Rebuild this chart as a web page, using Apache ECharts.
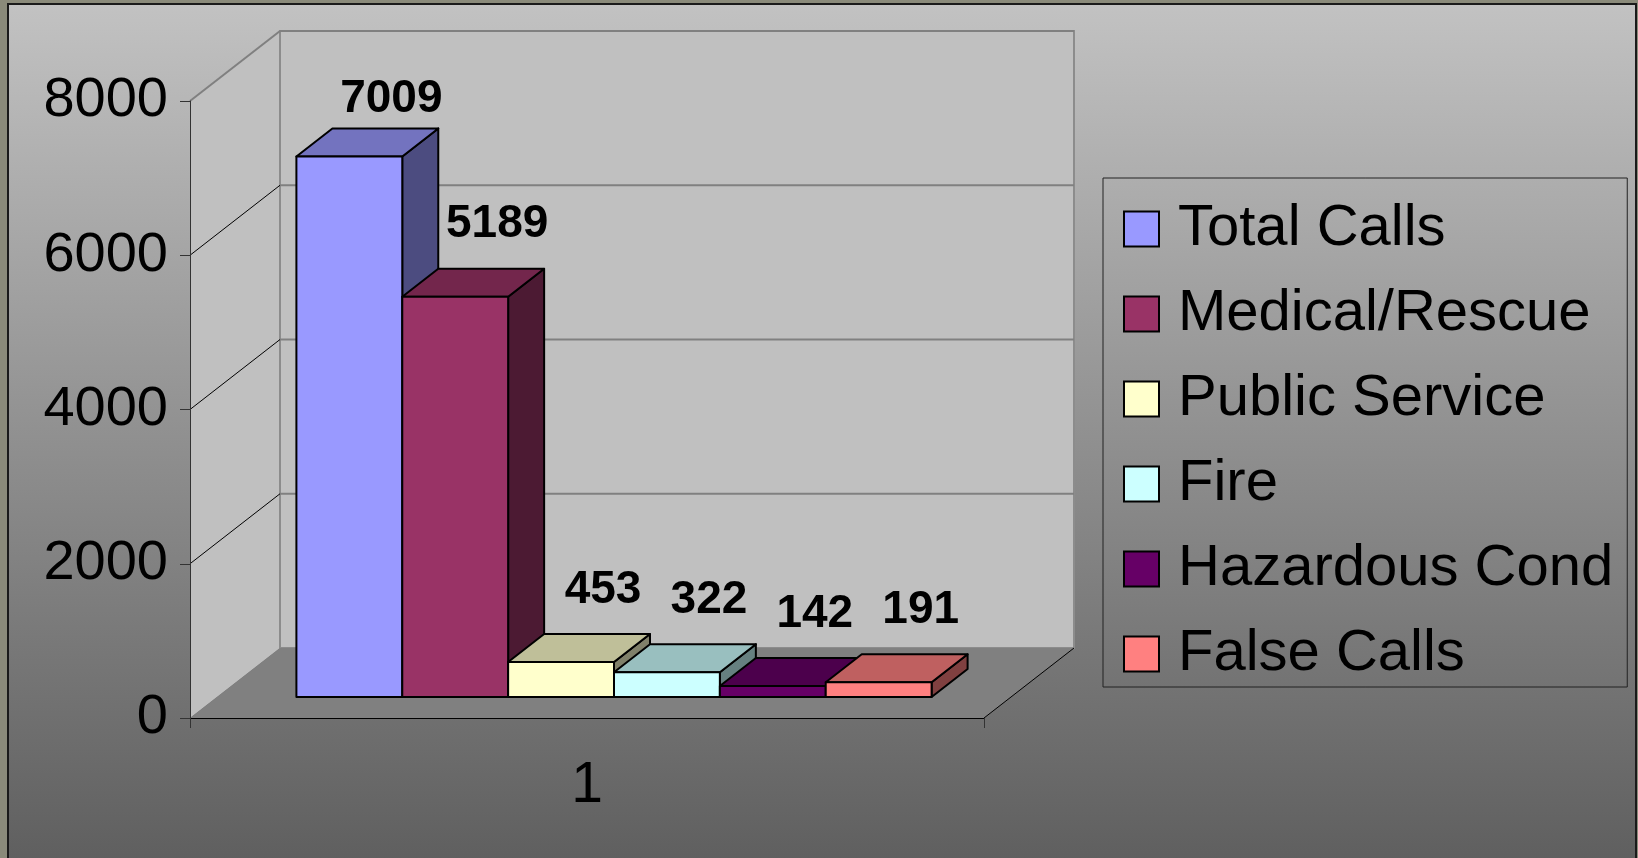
<!DOCTYPE html>
<html>
<head>
<meta charset="utf-8">
<title>Calls by type</title>
<script src="https://cdn.jsdelivr.net/npm/echarts@6/dist/echarts.min.js"></script>
<style>
  html, body { margin: 0; padding: 0; background: #8a8a7a; }
  #main { width: 1638px; height: 858px; }
</style>
</head>
<body>
<div id="main"></div>
<script>
// data
var categories = ['1'];
var seriesNames = ['Total Calls', 'Medical/Rescue', 'Public Service', 'Fire', 'Hazardous Cond', 'False Calls'];
var callCounts = [7009, 5189, 453, 322, 142, 191];
var yTicks = [0, 2000, 4000, 6000, 8000];

// colours of the three visible faces
var frontColors = ['#9999FF', '#993366', '#FFFFCC', '#CCFFFF', '#660066', '#FF8080'];
var topColors = ['#7373BF', '#73264C', '#BFBF99', '#99BFBF', '#4C004C', '#BF6060'];
var sideColors = ['#4C4C80', '#4C1A33', '#80806A', '#668080', '#330033', '#804040'];

// fake 3d: depth vector of the box, gap width 150%, bars sit at depth 0.3..0.7
var DX = 90, DY = -70;
var GAP = 1.5, D0 = 0.3, D1 = 0.7;
var FONT = '"Liberation Sans", Arial, sans-serif';

var chart = echarts.init(document.getElementById('main'));

function renderWalls(params, api) {
  var base = api.coord([0, 0]);
  var band = api.size([1, 0])[0];
  var x0 = base[0] - band / 2, x1 = base[0] + band / 2;
  var yb = base[1];
  var maxV = yTicks[yTicks.length - 1];
  var yt = api.coord([0, maxV])[1];
  var kids = [];
  kids.push({ type: 'polygon', shape: { points: [[x0, yt], [x0 + DX, yt + DY], [x0 + DX, yb + DY], [x0, yb]] }, style: { fill: '#c0c0c0' } });
  kids.push({ type: 'rect', shape: { x: x0 + DX, y: yt + DY, width: x1 - x0, height: yb - yt }, style: { fill: '#c0c0c0', stroke: '#8c8c8c', lineWidth: 2 } });
  kids.push({ type: 'polygon', shape: { points: [[x0, yb], [x1, yb], [x1 + DX, yb + DY], [x0 + DX, yb + DY]] }, style: { fill: '#808080' } });
  yTicks.forEach(function (v) {
    if (v === 0) return;
    var y = api.coord([0, v])[1];
    kids.push({ type: 'line', shape: { x1: x0 + DX, y1: y + DY, x2: x1 + DX, y2: y + DY }, style: { stroke: '#808080', lineWidth: 2 } });
    kids.push({ type: 'line', shape: { x1: x0, y1: y, x2: x0 + DX, y2: y + DY },
      style: { stroke: v === maxV ? '#808080' : '#000', lineWidth: v === maxV ? 2 : 1 } });
  });
  kids.push({ type: 'line', shape: { x1: x1, y1: yb, x2: x1 + DX, y2: yb + DY }, style: { stroke: '#000', lineWidth: 1 } });
  return { type: 'group', children: kids };
}

function renderBar(params, api) {
  var i = params.seriesIndex - 1;
  var base = api.coord([0, 0]);
  var top = api.coord([0, api.value(1)]);
  var band = api.size([1, 0])[0];
  var w = band / (seriesNames.length + GAP);
  var xl = base[0] - band / 2 + w * GAP / 2 + w * i + D0 * DX;
  var xr = xl + w;
  var yb = base[1] + D0 * DY;
  var yt = top[1] + D0 * DY;
  var ddx = (D1 - D0) * DX, ddy = (D1 - D0) * DY;
  var edge = { stroke: '#000', lineWidth: 2, lineJoin: 'round' };
  var ly = Math.max(yt + ddy - 44, 99);
  return {
    type: 'group',
    children: [
      { type: 'polygon', shape: { points: [[xr, yt], [xr + ddx, yt + ddy], [xr + ddx, yb + ddy], [xr, yb]] },
        style: Object.assign({ fill: sideColors[i] }, edge) },
      { type: 'polygon', shape: { points: [[xl, yt], [xl + ddx, yt + ddy], [xr + ddx, yt + ddy], [xr, yt]] },
        style: Object.assign({ fill: topColors[i] }, edge) },
      { type: 'rect', shape: { x: xl, y: yt, width: w, height: yb - yt },
        style: Object.assign({ fill: frontColors[i] }, edge) },
      { type: 'text', x: (xl + xr) / 2 + ddx + 6, y: ly, z2: 100,
        style: { text: String(api.value(1)), fill: '#000', font: 'bold 46px ' + FONT, align: 'center', verticalAlign: 'middle' } }
    ]
  };
}

var series = [{
  name: 'walls',
  type: 'custom',
  z: 1,
  silent: true,
  renderItem: renderWalls,
  data: [[0, yTicks[yTicks.length - 1]]],
  encode: { x: 0, y: 1 }
}];
seriesNames.forEach(function (name, i) {
  series.push({
    name: name,
    type: 'custom',
    z: 2,
    renderItem: renderBar,
    itemStyle: { color: frontColors[i] },
    data: [[0, callCounts[i]]],
    encode: { x: 0, y: 1 }
  });
});

chart.setOption({
  animation: false,
  backgroundColor: '#8a8a7a',
  graphic: [{
    type: 'rect',
    z: -10,
    shape: { x: 8, y: 4, width: 1628, height: 900 },
    style: {
      fill: new echarts.graphic.LinearGradient(0, 0, 0, 1, [
        { offset: 0, color: '#c2c2c2' },
        { offset: 1, color: '#5a5a5a' }
      ]),
      stroke: '#1a1a1a',
      lineWidth: 2
    }
  }],
  grid: { left: 190, top: 101, width: 794, height: 617, outerBoundsMode: 'none', containLabel: false },
  legend: {
    data: seriesNames,
    orient: 'vertical',
    left: 1103,
    top: 178,
    padding: [22, 14, 4, 20],
    itemGap: 27,
    itemWidth: 35,
    itemHeight: 35,
    icon: 'rect',
    borderColor: '#222',
    borderWidth: 1,
    itemStyle: { borderColor: '#000', borderWidth: 2 },
    textStyle: { fontSize: 58, lineHeight: 58, color: '#000', fontFamily: FONT, padding: [0, 0, 0, 14] }
  },
  xAxis: {
    type: 'category',
    data: categories,
    z: 5,
    axisLine: { show: true, lineStyle: { color: '#000', width: 1 } },
    axisTick: { show: true, length: 10, lineStyle: { color: '#333' } },
    axisLabel: { fontSize: 57, color: '#000', margin: 40, fontFamily: FONT },
    splitLine: { show: false }
  },
  yAxis: {
    type: 'value',
    min: 0,
    max: 8000,
    interval: 2000,
    z: 5,
    axisLine: { show: true, lineStyle: { color: '#333', width: 1 } },
    axisTick: { show: true, length: 10, lineStyle: { color: '#333' } },
    axisLabel: { fontSize: 56, color: '#000', margin: 22, fontFamily: FONT, formatter: function (v) { return String(v); } },
    splitLine: { show: false }
  },
  series: series
});
</script>
</body>
</html>
